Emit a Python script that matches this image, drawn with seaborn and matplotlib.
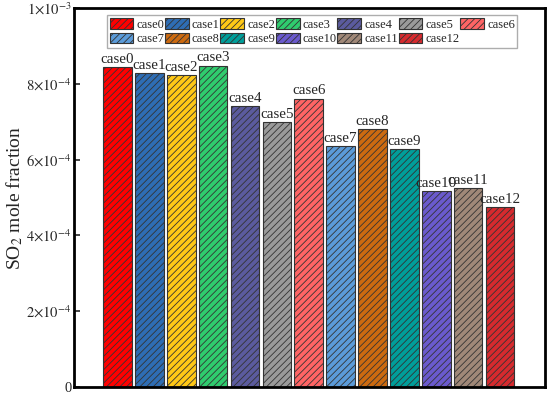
import matplotlib
matplotlib.use("Agg")
import matplotlib.pyplot as plt
import seaborn as sns
import pandas as pd
from matplotlib.ticker import FixedLocator

cases = ["case0", "case1", "case2", "case3", "case4", "case5", "case6",
         "case7", "case8", "case9", "case10", "case11", "case12"]
so2 = [8.45e-4, 8.29e-4, 8.22e-4, 8.48e-4, 7.40e-4, 6.98e-4, 7.61e-4,
       6.36e-4, 6.80e-4, 6.28e-4, 5.17e-4, 5.24e-4, 4.74e-4]
colors = ["#FF0000", "#2E6DB4", "#FFC816", "#2FCC6E", "#5B5B9E", "#9A9A9A", "#FF6464",
          "#5B9BD9", "#CC6A10", "#009E9A", "#6A5ACD", "#A08878", "#D62A2E"]
yticks = [0, 2e-4, 4e-4, 6e-4, 8e-4, 1e-3]
ytick_labels = ["0", r"$2{\times}10^{-4}$", r"$4{\times}10^{-4}$", r"$6{\times}10^{-4}$",
                r"$8{\times}10^{-4}$", r"$1{\times}10^{-3}$"]

sns.set_theme(style="ticks")
plt.rcParams["font.family"] = ["Liberation Serif", "DejaVu Serif"]
plt.rcParams["mathtext.fontset"] = "stix"
plt.rcParams["hatch.linewidth"] = 0.6
plt.rcParams["hatch.color"] = "#333333"

df = pd.DataFrame({"case": cases, "so2": so2})

fig, ax = plt.subplots(figsize=(5.5, 3.95), dpi=100)
sns.barplot(data=df, x="case", y="so2", hue="case", palette=colors,
            dodge=False, width=0.9, legend=False, ax=ax, saturation=1,
            edgecolor="#333333", linewidth=0.8)
for p in ax.patches:
    p.set_hatch("/////")

for i, (c, v) in enumerate(zip(cases, so2)):
    ax.text(i, v + 0.03e-4, c, ha="center", va="bottom", fontsize=10.8)

ax.set_xlim(-1.36, 13.4)
ax.set_ylim(0, 1e-3)
ax.yaxis.set_major_locator(FixedLocator(yticks))
ax.set_yticklabels(ytick_labels, fontsize=10.5)
ax.set_xticks([])
ax.set_xlabel("")
ax.set_ylabel(r"SO$_2$ mole fraction", fontsize=14, labelpad=1)
ax.tick_params(axis="y", direction="in", length=4, width=1.2, pad=2)
for s in ax.spines.values():
    s.set_linewidth(2)
    s.set_color("black")

# matplotlib fills legend columns first; reorder so rows read case0..case6, case7..case12
order = [0, 7, 1, 8, 2, 9, 3, 10, 4, 11, 5, 12, 6]
handles = [ax.containers[i] for i in order]
labels = [cases[i] for i in order]
leg = ax.legend(handles, labels, ncol=7, loc="upper center",
                bbox_to_anchor=(0.506, 0.99), fontsize=9, frameon=True,
                fancybox=False, edgecolor="#999999", handlelength=1.9,
                handleheight=0.95, handletextpad=0.25, columnspacing=0.05,
                labelspacing=0.15, borderpad=0.2, borderaxespad=0.3)
leg.get_frame().set_linewidth(1.0)

fig.subplots_adjust(left=0.135, right=0.99, top=0.98, bottom=0.02)
fig.savefig("out.png", dpi=100)
plt.close(fig)
